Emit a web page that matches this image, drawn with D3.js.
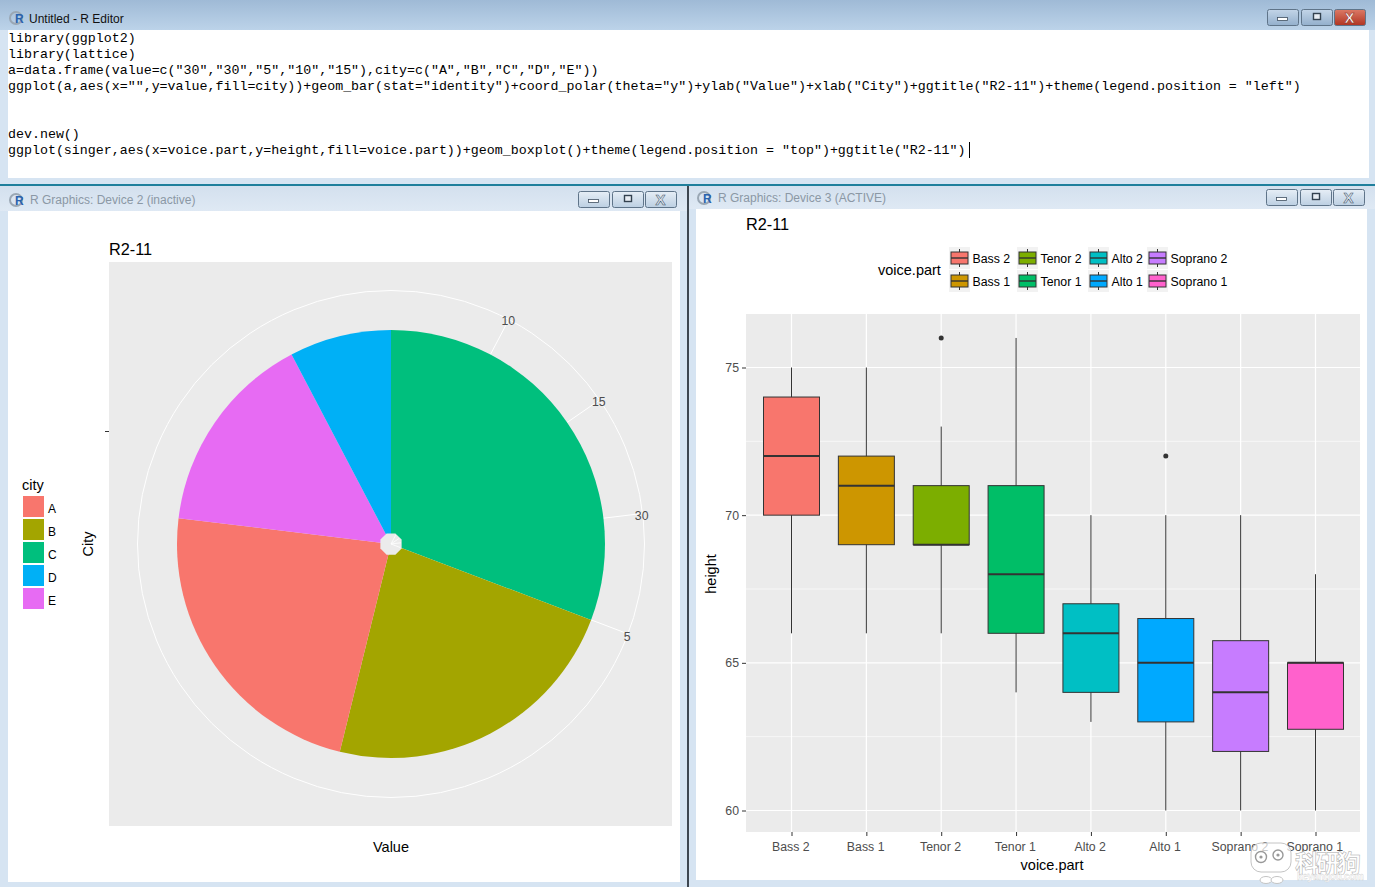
<!DOCTYPE html>
<html>
<head>
<meta charset="utf-8">
<script src="https://d3js.org/d3.v7.min.js"></script>
<style>
html,body{margin:0;padding:0;background:#d6e4f2;overflow:hidden}
svg{display:block}
text{font-family:"Liberation Sans",Arial,sans-serif}
</style>
</head>
<body>
<svg id="screen" width="1375" height="887"></svg>
<script>
// editor text
var codeLines = [
  'library(ggplot2)',
  'library(lattice)',
  'a=data.frame(value=c("30","30","5","10","15"),city=c("A","B","C","D","E"))',
  'ggplot(a,aes(x="",y=value,fill=city))+geom_bar(stat="identity")+coord_polar(theta="y")+ylab("Value")+xlab("City")+ggtitle("R2-11")+theme(legend.position = "left")',
  '',
  '',
  'dev.new()',
  'ggplot(singer,aes(x=voice.part,y=height,fill=voice.part))+geom_boxplot()+theme(legend.position = "top")+ggtitle("R2-11")'
];

// pie, clockwise from the top. value is the factor level that ggplot stacked
var cities = ["A","B","C","D","E"];
var cityLevels = [3,3,4,1,2];
var cityColors = ["#F8766D","#A3A500","#00BF7D","#00B0F6","#E76BF3"];
var pieOrder = ["C","B","A","E","D"];
var thetaTicks = [1,2,3,4];
var thetaLabels = ["10","15","30","5"];

// boxplot
var parts = ["Bass 2","Bass 1","Tenor 2","Tenor 1","Alto 2","Alto 1","Soprano 2","Soprano 1"];
var partColors = ["#F8766D","#CD9600","#7CAE00","#00BE67","#00BFC4","#00A9FF","#C77CFF","#FF61CC"];
var whiskerLow  = [66,66,66,64,63,60,60,60];
var boxLow      = [70,69,69,66,64,63,62,62.75];
var medians     = [72,71,69,68,66,65,64,65];
var boxHigh     = [74,72,71,71,67,66.5,65.75,65];
var whiskerHigh = [75,75,73,76,70,70,70,68];
var outlierPart = ["Tenor 2","Alto 1"];
var outlierVal  = [76,72];
var majorTicks = [60,65,70,75];
var minorTicks = [62.5,67.5,72.5];

var svg = d3.select("#screen");
var defs = svg.append("defs");

function grad(id,c1,c2){
  var g = defs.append("linearGradient").attr("id",id).attr("x1",0).attr("y1",0).attr("x2",0).attr("y2",1);
  g.append("stop").attr("offset","0%").attr("stop-color",c1);
  g.append("stop").attr("offset","100%").attr("stop-color",c2);
}
grad("barActive","#9fbad6","#bcd3e9");
grad("barIdle","#d3e0ee","#dfe9f4");
grad("btnActive","#c3d5e8","#93afcc");
grad("btnIdle","#e6eef6","#bccfe2");
grad("btnClose","#dc7a66","#b03422");

function rIcon(x,y){
  svg.append("circle").attr("cx",x+6).attr("cy",y).attr("r",6).attr("fill","none").attr("stroke","#9aa7b4").attr("stroke-width",2);
  svg.append("text").attr("x",x+5).attr("y",y+5).attr("font-size",12).attr("font-weight","bold").attr("fill","#2a62ad").text("R");
}

function winButtons(right,y,active){
  var xs = [right-100,right-66,right-33];
  xs.forEach(function(x,i){
    var red = active && i==2;
    svg.append("rect").attr("x",x+.5).attr("y",y+.5).attr("width",31).attr("height",16).attr("rx",2)
      .attr("fill",red?"url(#btnClose)":(active?"url(#btnActive)":"url(#btnIdle)")).attr("stroke","#5f7489");
    if(i==0) svg.append("rect").attr("x",x+10.5).attr("y",y+8.5).attr("width",10).attr("height",3).attr("fill","#fff").attr("stroke","#3f4f60").attr("stroke-width",.8);
    if(i==1) svg.append("rect").attr("x",x+12.5).attr("y",y+4.5).attr("width",7).attr("height",6).attr("fill","#e8edf3").attr("stroke","#33414f").attr("stroke-width",1.4);
    if(i==2) svg.append("text").attr("x",x+15.5).attr("y",y+13.5).attr("text-anchor","middle").attr("font-size",15).attr("font-weight","bold")
      .attr("fill",red?"#fff":"#dfe7ef").attr("stroke",red?"#8a2d1e":"#44566a").attr("stroke-width",.5).text("X");
  });
}

// window frames
svg.append("rect").attr("width",1375).attr("height",887).attr("fill","#d6e4f2");
svg.append("rect").attr("width",1375).attr("height",30).attr("fill","url(#barActive)");
svg.append("rect").attr("x",8).attr("y",30).attr("width",1361).attr("height",148).attr("fill","#fff");
svg.append("rect").attr("y",184).attr("width",1375).attr("height",2).attr("fill","#1f7f9c");
svg.append("rect").attr("y",186).attr("width",687).attr("height",25).attr("fill","url(#barIdle)");
svg.append("rect").attr("x",689).attr("y",186).attr("width",686).attr("height",23).attr("fill","url(#barIdle)");
svg.append("rect").attr("x",8).attr("y",211).attr("width",672).attr("height",671).attr("fill","#fff");
svg.append("rect").attr("x",696).attr("y",209).attr("width",671).attr("height",671).attr("fill","#fff");
svg.append("rect").attr("x",687).attr("y",186).attr("width",2).attr("height",701).attr("fill","#3d4650");

rIcon(10,18);
svg.append("text").attr("x",29).attr("y",23).attr("font-size",12).attr("fill","#111").text("Untitled - R Editor");
winButtons(1367,9,true);
rIcon(10,200);
svg.append("text").attr("x",30).attr("y",204).attr("font-size",12).attr("fill","#8b98a5").text("R Graphics: Device 2 (inactive)");
winButtons(678,191,false);
rIcon(698,198);
svg.append("text").attr("x",718).attr("y",202).attr("font-size",12).attr("fill","#8b98a5").text("R Graphics: Device 3 (ACTIVE)");
winButtons(1366,189,false);

// editor
svg.append("g").selectAll("text").data(codeLines).enter().append("text")
  .attr("x",8)
  .attr("y",function(d,i){return 42+i*16;})
  .attr("font-size",13.31)
  .attr("fill","#000")
  .style("font-family","'Liberation Mono',monospace")
  .style("white-space","pre")
  .text(function(d){return d;});
svg.append("line").attr("x1",969.5).attr("x2",969.5).attr("y1",142).attr("y2",158).attr("stroke","#000");

// ---------- pie ----------
var pie = svg.append("g");
pie.append("rect").attr("x",109).attr("y",262).attr("width",563).attr("height",564).attr("fill","#EBEBEB");
var cx = 391, cy = 544;
var levelOf = function(c){return cityLevels[cities.indexOf(c)];};
var total = d3.sum(cityLevels);
var theta = d3.scaleLinear().domain([0,total]).range([0,2*Math.PI]);
var plotG = pie.append("g").attr("transform","translate("+cx+","+cy+")");

plotG.append("circle").attr("r",253.5).attr("fill","none").attr("stroke","#fff").attr("stroke-width",1);
thetaTicks.forEach(function(t){
  var a = theta(t);
  plotG.append("line")
    .attr("x2",253*Math.sin(a)).attr("y2",-253*Math.cos(a))
    .attr("stroke","#fff").attr("stroke-width",1);
});
var slices = d3.pie().sort(null).value(levelOf)(pieOrder);
var arc = d3.arc().innerRadius(0).outerRadius(214);
plotG.selectAll("path.slice").data(slices).enter().append("path")
  .attr("class","slice")
  .attr("d",arc)
  .attr("fill",function(d){return cityColors[cities.indexOf(d.data)];});
// the hole in the middle is a rough octagon in the device
var hole = d3.lineRadial().curve(d3.curveLinearClosed);
plotG.append("path")
  .attr("d",hole(d3.range(8).map(function(i){return [(i+.5)*Math.PI/4,11.5];})))
  .attr("fill","#EBEBEB");
thetaTicks.forEach(function(t){
  var a = theta(t);
  plotG.append("line")
    .attr("x2",10*Math.sin(a)).attr("y2",-10*Math.cos(a))
    .attr("stroke","#fff").attr("stroke-width",.8);
});
plotG.selectAll("text.theta").data(thetaTicks).enter().append("text")
  .attr("class","theta")
  .attr("x",function(t){return 252.5*Math.sin(theta(t));})
  .attr("y",function(t){
    var s = Math.sin(theta(t)/2);
    return -252.5*Math.cos(theta(t))+4+4.5*s*s;
  })
  .attr("text-anchor","middle")
  .attr("font-size",12.3)
  .attr("fill","#4D4D4D")
  .text(function(t,i){return thetaLabels[i];});

pie.append("line").attr("x1",105).attr("x2",109).attr("y1",431.5).attr("y2",431.5).attr("stroke","#333");
pie.append("text").attr("x",109).attr("y",255).attr("font-size",16.3).attr("fill","#000").text("R2-11");
pie.append("text").attr("x",391).attr("y",852).attr("text-anchor","middle").attr("font-size",14.5).attr("fill","#000").text("Value");
pie.append("text").attr("transform","translate(93,544) rotate(-90)").attr("text-anchor","middle").attr("font-size",14.5).attr("fill","#000").text("City");

// city legend
pie.append("text").attr("x",22).attr("y",490).attr("font-size",14.5).attr("fill","#000").text("city");
var keys = pie.selectAll("g.key").data(cities).enter().append("g")
  .attr("class","key")
  .attr("transform",function(d,i){return "translate(23,"+(496+i*23)+")";});
keys.append("rect").attr("width",21).attr("height",21).attr("fill",function(d,i){return cityColors[i];});
keys.append("text").attr("x",25).attr("y",16.5).attr("font-size",12).attr("fill","#000").text(function(d){return d;});

// ---------- boxplot ----------
var x = d3.scalePoint().domain(parts).range([791.5,1315.5]);
var y = d3.scaleLinear().domain([60,75]).range([810.5,367.5]);
var box = svg.append("g");
box.append("rect").attr("x",746).attr("y",314).attr("width",614).attr("height",518).attr("fill","#EBEBEB");

function hgrid(vals,w){
  box.append("g").selectAll("line").data(vals).enter().append("line")
    .attr("x1",746).attr("x2",1360)
    .attr("y1",function(d){return y(d);}).attr("y2",function(d){return y(d);})
    .attr("stroke","#fff").attr("stroke-width",w);
}
hgrid(minorTicks,.6);
hgrid(majorTicks,1.2);
box.append("g").selectAll("line").data(parts).enter().append("line")
  .attr("x1",function(d){return x(d);}).attr("x2",function(d){return x(d);})
  .attr("y1",314).attr("y2",832)
  .attr("stroke","#fff").attr("stroke-width",1.2);

var boxW = 56;
var bg = box.selectAll("g.part").data(parts).enter().append("g").attr("class","part");
bg.append("line").attr("x1",function(d){return x(d);}).attr("x2",function(d){return x(d);})
  .attr("y1",function(d,i){return y(whiskerLow[i]);}).attr("y2",function(d,i){return y(whiskerHigh[i]);})
  .attr("stroke","#333");
bg.append("rect")
  .attr("x",function(d){return x(d)-boxW/2;})
  .attr("width",boxW)
  .attr("y",function(d,i){return y(boxHigh[i]);})
  .attr("height",function(d,i){return y(boxLow[i])-y(boxHigh[i]);})
  .attr("fill",function(d,i){return partColors[i];})
  .attr("stroke","#333");
bg.append("line").attr("x1",function(d){return x(d)-boxW/2;}).attr("x2",function(d){return x(d)+boxW/2;})
  .attr("y1",function(d,i){return y(medians[i]);}).attr("y2",function(d,i){return y(medians[i]);})
  .attr("stroke","#333").attr("stroke-width",2);
box.selectAll("circle.out").data(outlierPart).enter().append("circle")
  .attr("class","out")
  .attr("cx",function(d){return x(d);})
  .attr("cy",function(d,i){return y(outlierVal[i]);})
  .attr("r",2.5).attr("fill","#333");

var xAxis = d3.axisBottom(x).tickSize(4).tickPadding(6);
var yAxis = d3.axisLeft(y).tickValues(majorTicks).tickSize(4).tickPadding(3);
var gx = box.append("g").attr("transform","translate(0,832)").call(xAxis);
var gy = box.append("g").attr("transform","translate(746,0)").call(yAxis);
[gx,gy].forEach(function(g){
  g.select(".domain").remove();
  g.selectAll("line").attr("stroke","#333");
  g.selectAll("text").attr("font-size",12.3).attr("fill","#4D4D4D").style("font-family","'Liberation Sans'");
});
gx.selectAll("text").attr("dx",-1.2);

box.append("text").attr("x",746).attr("y",230).attr("font-size",16.3).attr("fill","#000").text("R2-11");
box.append("text").attr("x",1052).attr("y",870).attr("text-anchor","middle").attr("font-size",14.5).attr("fill","#000").text("voice.part");
box.append("text").attr("transform","translate(716,574) rotate(-90)").attr("text-anchor","middle").attr("font-size",14.5).attr("fill","#000").text("height");
box.append("text").attr("x",878).attr("y",275).attr("font-size",14.5).attr("fill","#000").text("voice.part");

// box legend, filled column by column
var legendCols = [959.5,1027.5,1098.5,1157.5];
var legendRows = [258,281];
var lg = box.selectAll("g.lk").data(parts).enter().append("g")
  .attr("class","lk")
  .attr("transform",function(d,i){return "translate("+legendCols[Math.floor(i/2)]+","+legendRows[i%2]+")";});
lg.append("rect").attr("x",-10.5).attr("y",-11).attr("width",21).attr("height",22).attr("fill","#F2F2F2");
lg.append("line").attr("y1",-9).attr("y2",9).attr("stroke","#333");
lg.append("rect").attr("x",-8.5).attr("y",-6).attr("width",17).attr("height",12)
  .attr("fill",function(d,i){return partColors[i];}).attr("stroke","#333");
lg.append("line").attr("x1",-8.5).attr("x2",8.5).attr("stroke","#333").attr("stroke-width",1.4);
lg.append("text").attr("x",13).attr("y",4.5).attr("font-size",12.3).attr("fill","#000").text(function(d){return d;});

// watermark
var wm = svg.append("g");
wm.append("rect").attr("x",1251).attr("y",843).attr("width",40).attr("height",29).attr("rx",10)
  .attr("fill","#fff").attr("fill-opacity",.7).attr("stroke","#c4c4c4");
wm.append("circle").attr("cx",1261).attr("cy",857).attr("r",5.5).attr("fill","#fff").attr("stroke","#999").attr("stroke-width",1.4);
wm.append("circle").attr("cx",1278).attr("cy",855).attr("r",5).attr("fill","#fff").attr("stroke","#999").attr("stroke-width",1.4);
wm.append("circle").attr("cx",1261).attr("cy",857).attr("r",1.6).attr("fill","#999");
wm.append("circle").attr("cx",1278).attr("cy",855).attr("r",1.6).attr("fill","#999");
wm.append("ellipse").attr("cx",1266).attr("cy",880).attr("rx",6).attr("ry",3.5).attr("fill","#fff").attr("stroke","#c4c4c4");
wm.append("ellipse").attr("cx",1277).attr("cy",880).attr("rx",6).attr("ry",3.5).attr("fill","#fff").attr("stroke","#c4c4c4");
wm.append("text").attr("x",1295).attr("y",872).attr("font-size",24).attr("font-weight","bold").attr("textLength",66)
  .style("font-family","'Noto Sans CJK SC'").attr("fill","#fff").attr("stroke","#a8a8a8").attr("stroke-width",.5).text("科研狗");
wm.append("text").attr("x",1297).attr("y",880).attr("font-size",10).attr("font-weight","bold").attr("textLength",67)
  .attr("fill","#fff").attr("stroke","#c9c9c9").attr("stroke-width",.3).text("keyangou.com");
</script>
</body>
</html>
